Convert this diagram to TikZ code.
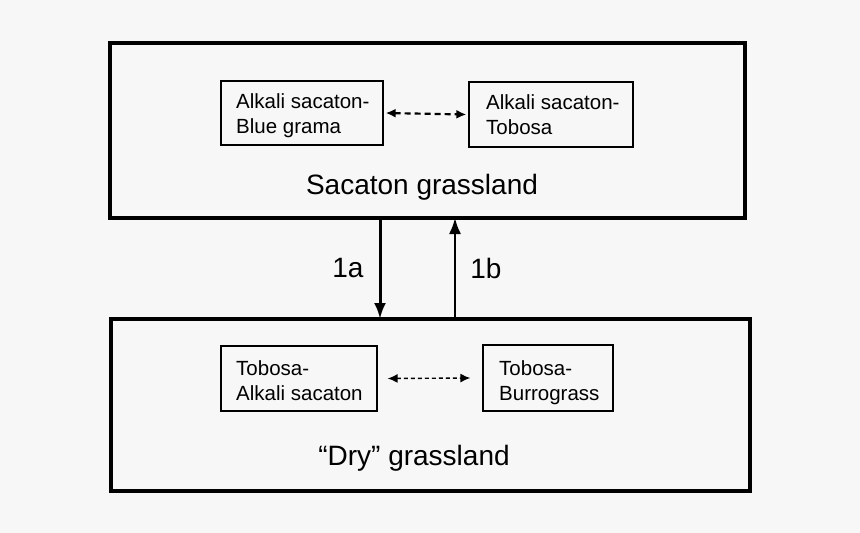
\documentclass[tikz,border=0pt]{standalone}
\usepackage{fontspec}
\setmainfont{Liberation Sans}
\usetikzlibrary{arrows.meta}
\definecolor{bg}{HTML}{F7F7F7}
\begin{document}
\begin{tikzpicture}[x=1pt,y=-1pt,
  bigbox/.style={draw,line width=3.2pt},
  smallbox/.style={draw,line width=1.3pt},
  itemtext/.style={font=\fontsize{20.5}{24.5}\selectfont,anchor=base west,inner sep=0pt},
  bigtext/.style={font=\fontsize{28}{30}\selectfont,inner sep=0pt},
  dasharrow/.style={dashed,{Latex[length=10pt,width=9pt]}-{Latex[length=10pt,width=9pt]}},
  solidarrow/.style={-{Latex[length=16pt,width=12pt]}}]
\fill[bg] (0,0) rectangle (860,533);
\useasboundingbox (0,0) rectangle (860,533);
% top region
\draw[bigbox] (110,43) rectangle (745,218);
\coordinate (topB1) at (380,218);
\coordinate (topB2) at (455,218);
\node[smallbox,minimum width=162pt,minimum height=64pt] (tl) at (302,113) {};
\node[itemtext] (tl1) at (236,108) {Alkali sacaton-};
\node[itemtext] (tl2) at (236,133) {Blue grama};
\node[smallbox,minimum width=164pt,minimum height=65pt] (tr) at (551,114.5) {};
\node[itemtext] (tr1) at (486,109) {Alkali sacaton-};
\node[itemtext] (tr2) at (486,134) {Tobosa};
\draw[dasharrow,line width=2.2pt,dash pattern=on 6pt off 4pt] ([xshift=2pt]tl.east) -- ([xshift=-2pt]tr.west);
\node[bigtext] (sg) at (422,187) {Sacaton grassland};
% bottom region
\draw[bigbox] (111,319) rectangle (750,491);
\coordinate (botT1) at (380,319);
\coordinate (botT2) at (455,319);
\node[smallbox,minimum width=156pt,minimum height=65pt] (bl) at (299,378.5) {};
\node[itemtext] (bl1) at (236,375) {Tobosa-};
\node[itemtext] (bl2) at (236,400) {Alkali sacaton};
\node[smallbox,minimum width=130pt,minimum height=66pt] (br) at (548,378) {};
\node[itemtext] (br1) at (499,375) {Tobosa-};
\node[itemtext] (br2) at (499,400) {Burrograss};
\draw[dasharrow,line width=1.4pt,dash pattern=on 4pt off 3pt] ([xshift=10pt]bl.east) -- ([xshift=-12pt]br.west);
\node[bigtext] (dg) at (414,458) {“Dry” grassland};
% transitions
\draw[solidarrow,line width=3pt] (topB1) -- (botT1);
\draw[solidarrow,line width=2pt] (botT2) -- (topB2);
\node[bigtext] (l1a) at (348,268) {1a};
\node[bigtext] (l1b) at (486,268) {1b};
\end{tikzpicture}
\end{document}
